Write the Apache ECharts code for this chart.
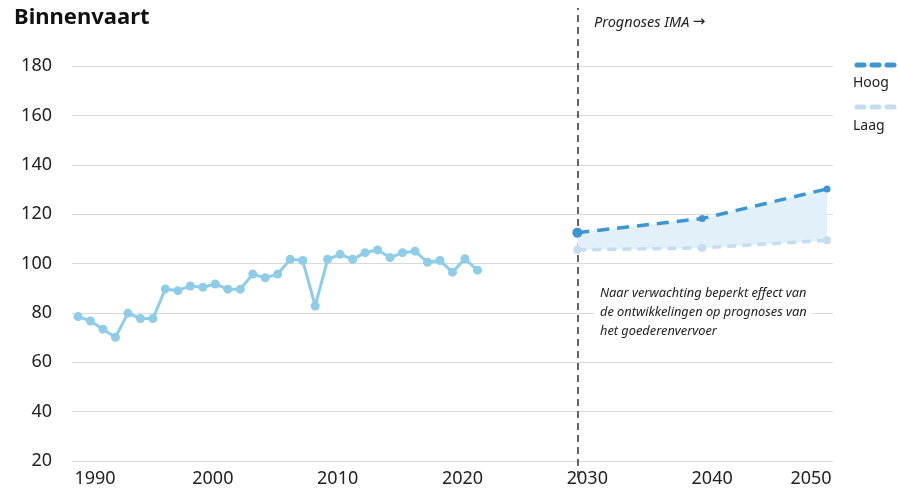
<!DOCTYPE html>
<html>
<head>
<meta charset="utf-8">
<script src="https://cdn.jsdelivr.net/npm/echarts@6/dist/echarts.min.js"></script>
<style>
  html, body { margin: 0; padding: 0; background: #fff; }
  #chart { width: 899px; height: 493px; }
</style>
</head>
<body>
<div id="chart"></div>
<script>
// historische reeks binnenvaart
const years = [1990, 1991, 1992, 1993, 1994, 1995, 1996, 1997, 1998, 1999, 2000,
  2001, 2002, 2003, 2004, 2005, 2006, 2007, 2008, 2009, 2010, 2011, 2012, 2013,
  2014, 2015, 2016, 2017, 2018, 2019, 2020, 2021, 2022]
const values = [78.5, 76.7, 73.4, 70.1, 79.9, 77.7, 77.7, 89.7, 89.0, 90.9, 90.4,
  91.7, 89.6, 89.6, 95.7, 94.2, 95.7, 101.7, 101.2, 82.8, 101.7, 103.7, 101.7, 104.4,
  105.5, 102.4, 104.4, 105.0, 100.5, 101.2, 96.5, 101.9, 97.3]

// prognoses IMA
const progYears = [2030, 2040, 2050]
const hoog = [112.5, 118.2, 130.2]
const laag = [105.5, 106.3, 109.4]

const yTicks = [20, 40, 60, 80, 100, 120, 140, 160, 180]
const xTicks = [1990, 2000, 2010, 2020, 2030, 2040, 2050]
const splitYear = 2030

const font = 'Noto Sans'
const cHist = '#8ecde8'
const cHoog = '#3b97d3'
const cLaag = '#c4ddf1'
const cBand = '#e2f0f9'

// grid 0: assen + rasterlijnen, grid 1: data (hoger, zodat de stippellijn boven/onder doorloopt)
const g0 = { left: 72, right: 66, top: 66, bottom: 32 }
const g1 = { left: 78, right: 72, top: 8, bottom: 15 }
const pxPerUnit = (493 - g0.top - g0.bottom) / (yTicks[yTicks.length - 1] - yTicks[0])
const y1Max = yTicks[yTicks.length - 1] + (g0.top - g1.top) / pxPerUnit
const y1Min = yTicks[0] - (g0.bottom - g1.bottom) / pxPerUnit

const chart = echarts.init(document.getElementById('chart'))

const pair = (xs, ys) => xs.map((x, i) => [x, ys[i]])

const labelStyle = { fontFamily: font, fontSize: 18, color: '#222' }

chart.setOption({
  animation: false,
  grid: [g0, g1],
  xAxis: [
    { gridIndex: 0, type: 'value', min: 0, max: 1, show: false },
    {
      gridIndex: 1, type: 'value', min: xTicks[0], max: xTicks[xTicks.length - 1], interval: 10,
      axisLine: { show: false }, axisTick: { show: false }, splitLine: { show: false },
      axisLabel: {
        margin: -8,
        formatter: (v) => (v === 1990 ? '{a|' + v + '}' : v === 2050 ? '{c|' + v + '}' : '{b|' + v + '}'),
        rich: {
          a: { ...labelStyle, padding: [0, 0, 0, 34] },
          b: { ...labelStyle, padding: [0, 0, 0, 20] },
          c: { ...labelStyle, padding: [0, 32, 0, 0] },
        },
      },
    },
  ],
  yAxis: [
    {
      gridIndex: 0, type: 'value', min: yTicks[0], max: yTicks[yTicks.length - 1], interval: 20,
      axisLine: { show: false }, axisTick: { show: false },
      axisLabel: { margin: 20, ...labelStyle },
      splitLine: { lineStyle: { color: '#d9d9d9', width: 1.2 } },
    },
    { gridIndex: 1, type: 'value', min: y1Min, max: y1Max, show: false },
  ],
  series: [
    {
      // bandbreedte tussen laag en hoog + scheidingslijn 2030
      type: 'custom', xAxisIndex: 1, yAxisIndex: 1, silent: true, z: 1,
      data: progYears.map((x, i) => [x, laag[i], hoog[i]]),
      encode: { x: 0, y: [1, 2] },
      renderItem: (params, api) => {
        if (params.dataIndex !== 0) return null
        const low = progYears.map((x, i) => api.coord([x, laag[i]]))
        const high = progYears.map((x, i) => api.coord([x, hoog[i]])).reverse()
        return { type: 'polygon', shape: { points: low.concat(high) }, style: { fill: cBand } }
      },
      markLine: {
        silent: true, symbol: 'none', label: { show: false }, z: 1,
        lineStyle: { color: '#333', width: 1.5, type: [7, 5] },
        data: [{ xAxis: splitYear }],
      },
    },
    {
      name: 'Laag', type: 'line', xAxisIndex: 1, yAxisIndex: 1, z: 3,
      data: pair(progYears, laag), symbol: 'circle', symbolSize: 8,
      itemStyle: { color: cLaag }, lineStyle: { color: cLaag, width: 3.5, type: [9, 6] },
    },
    {
      name: 'Hoog', type: 'line', xAxisIndex: 1, yAxisIndex: 1, z: 3,
      data: pair(progYears, hoog), symbol: 'circle',
      symbolSize: (v, p) => (p.dataIndex === 0 ? 10 : 7),
      itemStyle: { color: cHoog }, lineStyle: { color: cHoog, width: 3.5, type: [12, 8] },
    },
    {
      name: 'Binnenvaart', type: 'line', xAxisIndex: 1, yAxisIndex: 1, z: 3,
      data: pair(years, values), symbol: 'circle', symbolSize: 9,
      itemStyle: { color: cHist }, lineStyle: { color: cHist, width: 3 },
    },
  ],
  graphic: [
    {
      type: 'text', left: 14, top: 7, z: 100,
      style: { text: 'Binnenvaart', fontFamily: font, fontSize: 22, fontWeight: 'bold', fill: '#111' },
    },
    {
      type: 'text', left: 594, top: 15, z: 100,
      style: {
        text: '{t|Prognoses IMA} {a|→}',
        rich: {
          t: { fontFamily: font, fontSize: 14.5, fontStyle: 'italic', fill: '#222' },
          a: { fontFamily: 'DejaVu Sans', fontSize: 15, fill: '#222' },
        },
      },
    },
    {
      type: 'text', left: 594, top: 284, z: 100,
      style: {
        text: 'Naar verwachting beperkt effect van\nde ontwikkelingen op prognoses van\nhet goederenvervoer',
        fontFamily: font, fontSize: 12.8, fontStyle: 'italic', fill: '#222', lineHeight: 19,
        backgroundColor: '#fff', padding: [0, 6],
      },
    },
    // legenda
    {
      type: 'line', shape: { x1: 857, y1: 65, x2: 895, y2: 65 }, z: 100,
      style: { stroke: cHoog, lineWidth: 5, lineDash: [7, 8], lineCap: 'round' },
    },
    {
      type: 'text', left: 853, top: 76, z: 100,
      style: { text: 'Hoog', fontFamily: font, fontSize: 14, fill: '#222' },
    },
    {
      type: 'line', shape: { x1: 857, y1: 107, x2: 895, y2: 107 }, z: 100,
      style: { stroke: cLaag, lineWidth: 5, lineDash: [7, 8], lineCap: 'round' },
    },
    {
      type: 'text', left: 853, top: 119, z: 100,
      style: { text: 'Laag', fontFamily: font, fontSize: 14, fill: '#222' },
    },
  ],
})
</script>
</body>
</html>
